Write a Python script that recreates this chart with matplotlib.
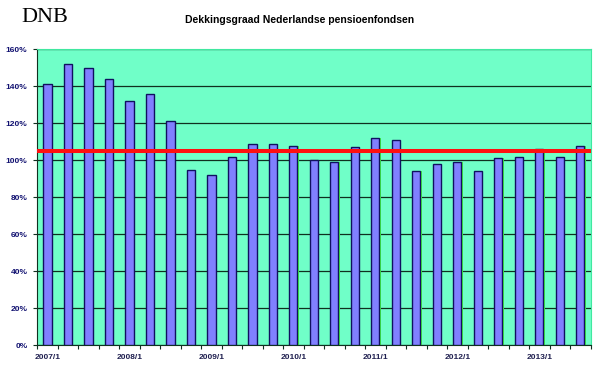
import numpy as np
import matplotlib
matplotlib.use('Agg')
from matplotlib import pyplot as plt

# kwartaalcijfers dekkingsgraad, 2007/1 t/m 2013/3
quarters = ['2007/1','2007/2','2007/3','2007/4','2008/1','2008/2','2008/3','2008/4',
            '2009/1','2009/2','2009/3','2009/4','2010/1','2010/2','2010/3','2010/4',
            '2011/1','2011/2','2011/3','2011/4','2012/1','2012/2','2012/3','2012/4',
            '2013/1','2013/2','2013/3']
ratio = [141, 152, 150, 144, 132, 136, 121, 95, 92, 102, 109, 109, 108, 100,
         99, 107, 112, 111, 94, 98, 99, 94, 101, 102, 106, 102, 108]
target = 105
yticks = [0, 20, 40, 60, 80, 100, 120, 140, 160]

plt.rcParams['font.family'] = ['Liberation Sans', 'DejaVu Sans']

fig = plt.figure(figsize=(6, 3.74), dpi=100)
ax = fig.add_axes([0.062, 0.0767, 0.9223, 0.7915])
ax.set_facecolor('#70ffc8')

x = np.arange(len(ratio))
# groene schaduw rechts van de balken
ax.bar(x + 0.06, ratio, width=0.4, color='#40ff40', zorder=2)
ax.bar(x, ratio, width=0.4, color='#8080ff', edgecolor='#101060', linewidth=1.0, zorder=3)
ax.axhline(target, color='#ff1010', linewidth=2.9, zorder=4)

ax.set_ylim(0, 160)
ax.set_xlim(-0.5, len(ratio) - 0.5)
ax.set_yticks(yticks)
ax.set_yticklabels([f'{v}%' for v in yticks])
ax.yaxis.grid(True, color='#103020', linewidth=0.9, zorder=1)
ax.set_axisbelow(True)

ax.set_xticks(np.arange(len(ratio) + 1) - 0.5)
ax.set_xticklabels([])
ax.tick_params(axis='x', length=3, color='#103020', width=0.8)
ax.tick_params(axis='y', length=3, color='#103020', width=0.8, pad=4,
               labelsize=6, labelcolor='#101070')
for lbl in ax.get_yticklabels():
    lbl.set_fontweight('bold')

for i in range(0, len(quarters), 4):
    ax.text(x[i], -4.5, quarters[i], ha='center', va='top', fontsize=6,
            fontweight='bold', color='#202050', transform=ax.transData)

for s in ['top', 'right']:
    ax.spines[s].set_color('#40e8a0')
for s in ['left', 'bottom']:
    ax.spines[s].set_color('#103020')

fig.text(300/600, 1 - 20/374, 'Dekkingsgraad Nederlandse pensioenfondsen',
         ha='center', va='center', fontsize=7.5, fontweight='bold', color='black')
fig.text(21/600, 1 - 18/374, 'DNB', ha='left', va='center', fontsize=16,
         family='Liberation Serif', color='black')

fig.savefig('out.png', dpi=100)
